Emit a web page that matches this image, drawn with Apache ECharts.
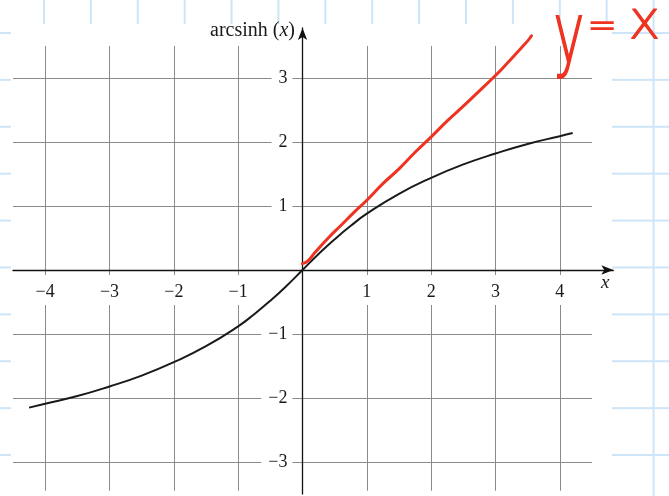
<!DOCTYPE html>
<html>
<head>
<meta charset="utf-8">
<script src="https://cdn.jsdelivr.net/npm/echarts@6/dist/echarts.min.js"></script>
<style>
html,body{margin:0;padding:0;width:669px;height:496px;overflow:hidden;}
body{
  background-color:#fff;
  background-image:
    linear-gradient(to right, #cde5f8 1.5px, transparent 1.5px),
    linear-gradient(to bottom, #cde5f8 1.5px, transparent 1.5px);
  background-size:46.9px 46.9px;
  background-position:43px 32px;
}
#paper{position:absolute;left:11px;top:24px;width:601px;height:472px;background:#fff;}
#chart{position:absolute;left:0;top:0;width:669px;height:496px;}
</style>
</head>
<body>
<div id="paper"></div>
<div id="chart"></div>
<script>
// ---- data ----
var xTicks = [-4, -3, -2, -1, 1, 2, 3, 4];
var yTicks = [-3, -2, -1, 1, 2, 3];
var xGrid = [-4, -3, -2, -1, 0, 1, 2, 3, 4];
var yGrid = [-3, -2, -1, 0, 1, 2, 3];
var curveX = [-4.25, -4, -3.5, -3, -2.5, -2, -1.5, -1, -0.75, -0.5, -0.25, 0, 0.25, 0.5, 0.75, 1, 1.5, 2, 2.5, 3, 3.5, 4, 4.2];
var curveY = [-2.15, -2.09, -1.97, -1.82, -1.65, -1.44, -1.19, -0.88, -0.69, -0.48, -0.25, 0, 0.25, 0.48, 0.69, 0.88, 1.19, 1.44, 1.65, 1.82, 1.97, 2.09, 2.14];
var redX = [0, 0.08, 0.2, 0.4, 0.6, 0.8, 1.0, 1.25, 1.5, 1.75, 2.0, 2.25, 2.5, 2.75, 3.0, 3.2, 3.4, 3.5, 3.56];
var redY = [0.1, 0.14, 0.28, 0.5, 0.7, 0.9, 1.09, 1.35, 1.58, 1.84, 2.08, 2.33, 2.56, 2.8, 3.04, 3.25, 3.47, 3.58, 3.66];

var chart = echarts.init(document.getElementById('chart'), null, {renderer: 'canvas'});
var serif = 'Liberation Serif';
function fmt(v){ return v < 0 ? '\u2212' + (-v) : String(v); }

var curve = curveX.map(function(x, i){ return [x, curveY[i]]; });
var red = redX.map(function(x, i){ return [x, redY[i]]; });

// grid A geometry (scale ~64 px per unit)
var gA = {left: 13, width: 579, top: 46, height: 444.8};
var xMinA = -4.5, xMaxA = 4.5, yMinA = -3.45, yMaxA = 3.5;
var zeroOffX = -(gA.height * (0 - yMinA) / (yMaxA - yMinA));   // move x labels up to y=0
var zeroOffY = -(gA.width * (0 - xMinA) / (xMaxA - xMinA));    // move y labels right to x=0

var red_c = '#ee3322';

chart.setOption({
  backgroundColor: 'transparent',
  animation: false,
  grid: [
    {left: gA.left, width: gA.width, top: gA.top, height: gA.height, containLabel: false, outerBoundsMode: 'none'},
    {left: 13, width: 600.3, top: 28, height: 466, containLabel: false, outerBoundsMode: 'none'}
  ],
  xAxis: [
    {
      gridIndex: 0, type: 'value', min: xMinA, max: xMaxA, z: 1,
      position: 'bottom', offset: zeroOffX,
      axisLine: {show: false, onZero: false},
      axisTick: {show: false, customValues: xGrid},
      splitLine: {show: true, lineStyle: {color: '#8a8a8a', width: 1}},
      axisLabel: {
        show: true, customValues: xTicks, formatter: fmt,
        fontFamily: serif, fontSize: 18, color: '#1a1a1a',
        backgroundColor: '#fff', padding: [8, 4, 4, 4], margin: 5
      }
    },
    {
      gridIndex: 1, type: 'value', min: -4.5, max: 4.83, z: 3,
      axisLine: {show: true, onZero: true, symbol: ['none', 'arrow'], symbolSize: [7, 12],
        lineStyle: {color: '#111', width: 1.3}},
      axisTick: {show: false}, axisLabel: {show: false}, splitLine: {show: false}
    }
  ],
  yAxis: [
    {
      gridIndex: 0, type: 'value', min: yMinA, max: yMaxA, z: 1,
      position: 'left', offset: zeroOffY,
      axisLine: {show: false, onZero: false},
      axisTick: {show: false, customValues: yGrid},
      splitLine: {show: true, lineStyle: {color: '#8a8a8a', width: 1}},
      axisLabel: {
        show: true, customValues: yTicks, formatter: fmt,
        fontFamily: serif, fontSize: 18, color: '#1a1a1a',
        backgroundColor: '#fff', padding: [1, 5, 1, 7], margin: 10
      }
    },
    {
      gridIndex: 1, type: 'value', min: -3.5, max: 3.78, z: 3,
      axisLine: {show: true, onZero: true, symbol: ['none', 'arrow'], symbolSize: [7, 12],
        lineStyle: {color: '#111', width: 1.3}},
      axisTick: {show: false}, axisLabel: {show: false}, splitLine: {show: false}
    }
  ],
  series: [
    {
      type: 'line', xAxisIndex: 0, yAxisIndex: 0, data: curve, smooth: true,
      showSymbol: false, clip: false, z: 4,
      lineStyle: {color: '#1a1a1a', width: 2}
    },
    {
      type: 'line', xAxisIndex: 0, yAxisIndex: 0, data: red, smooth: true,
      showSymbol: false, clip: false, z: 5,
      lineStyle: {color: red_c, width: 3, cap: 'round', join: 'round'}
    }
  ],
  graphic: [
    {
      type: 'text', right: 669 - 295, top: 21, z: 10,
      style: {
        text: '{n|arcsinh (}{i|x}{n|)}',
        rich: {
          n: {fontFamily: serif, fontSize: 20, fill: '#1a1a1a'},
          i: {fontFamily: serif, fontSize: 20, fontStyle: 'italic', fill: '#1a1a1a'}
        }
      }
    },
    {
      type: 'text', left: 601, top: 273, z: 10,
      style: {text: 'x', fontFamily: serif, fontSize: 19, fontStyle: 'italic', fill: '#1a1a1a'}
    },
    {
      type: 'text', left: 553, top: -2, scaleY: 1.6, z: 10,
      style: {text: 'y', fontFamily: 'DejaVu Sans', fontSize: 52, fontWeight: 300,
        fill: red_c, stroke: red_c, lineWidth: 1.2}
    },
    {
      type: 'text', left: 587, top: 10, z: 10,
      style: {text: '=', fontFamily: 'DejaVu Sans', fontSize: 35, fontWeight: 300,
        fill: red_c, stroke: red_c, lineWidth: 1.2}
    },
    {
      type: 'text', left: 628, top: -4, z: 10,
      style: {text: 'x', fontFamily: 'DejaVu Sans', fontSize: 54, fontWeight: 300,
        fill: red_c, stroke: red_c, lineWidth: 1.2}
    }
  ]
});
</script>
</body>
</html>
